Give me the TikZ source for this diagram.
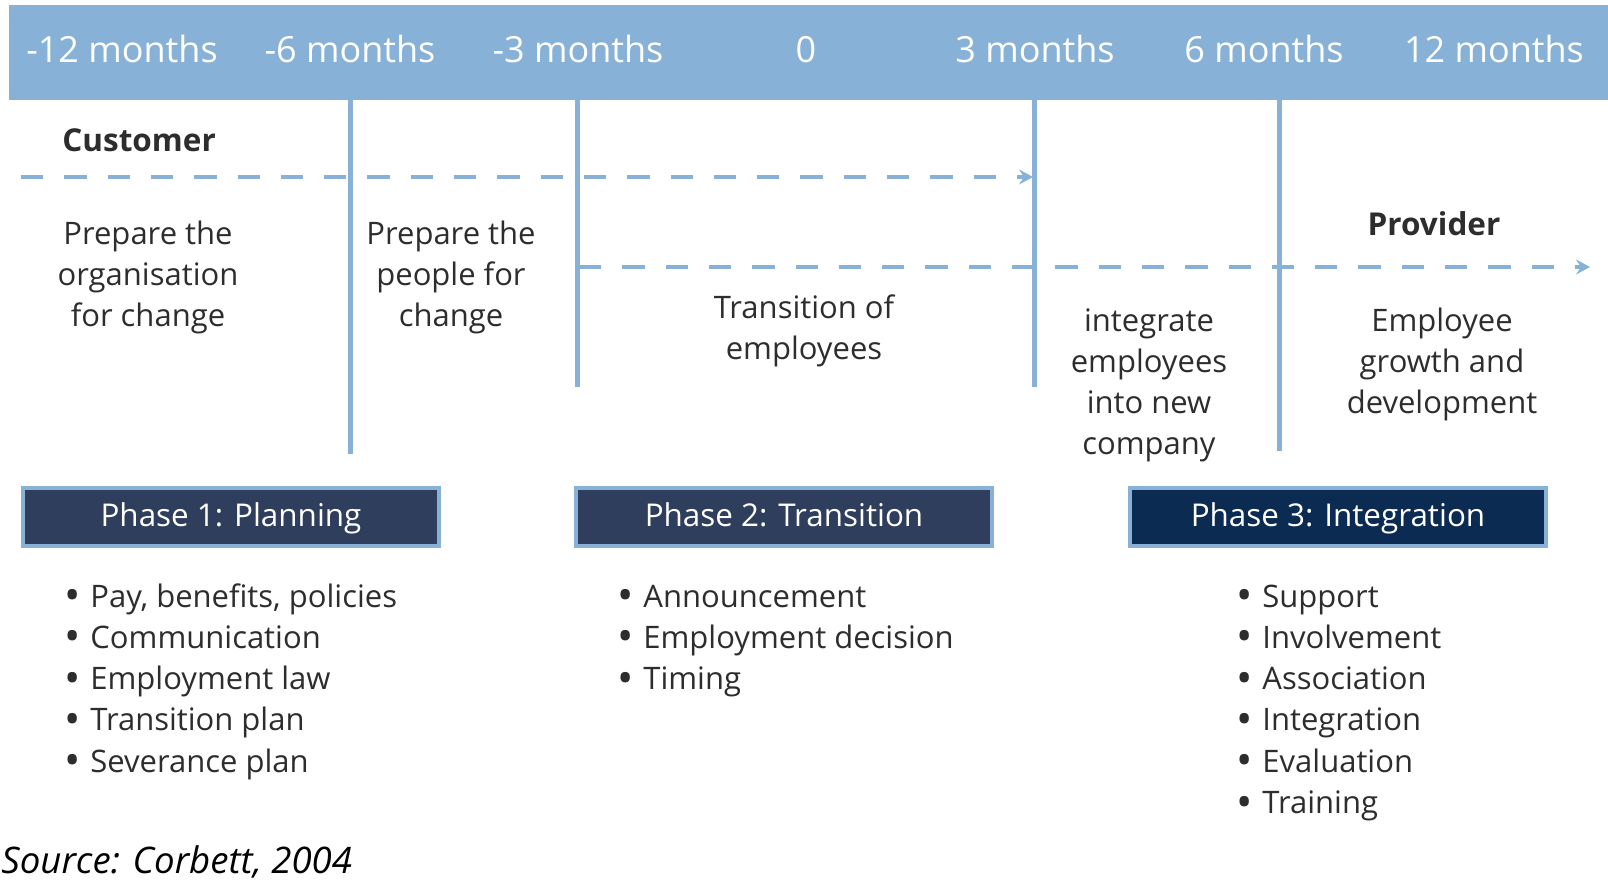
\documentclass[tikz,border=0pt]{standalone}
\usepackage{fontspec}
\setmainfont{Open Sans}
\usetikzlibrary{arrows.meta}
\definecolor{lb}{RGB}{135,177,215}
\definecolor{txt}{RGB}{45,45,45}
\definecolor{navyA}{RGB}{46,62,92}
\definecolor{navyB}{RGB}{12,43,83}
\newcommand\bul{\llap{\raisebox{-1.8pt}{\scalebox{1.4}{•}}\hspace{5pt}}}
\begin{document}
\begin{tikzpicture}[x=0.5pt,y=-0.5pt,
  hdrtxt/.style={text=white,font=\fontsize{18}{22}\selectfont,anchor=base,inner sep=0pt},
  body/.style={text=txt,font=\fontsize{15.5}{20.65}\selectfont,align=center,anchor=base,inner sep=0pt},
  party/.style={text=txt,font=\fontsize{15.75}{20}\selectfont\bfseries,anchor=base,inner sep=0pt},
  blist/.style={text=txt,font=\fontsize{15.5}{20.65}\selectfont,align=left,anchor=base west,inner sep=0pt},
  phasebox/.style={draw=lb,line width=2pt,minimum width=208pt,minimum height=29pt,inner sep=0pt,text=white,text height=12.6pt,text depth=2.8pt,font=\fontsize{15.7}{19}\selectfont},
  vline/.style={draw=lb,line width=2.5pt},
  dline/.style={draw=lb,line width=2.2pt,dash pattern=on 11.15pt off 10.5pt,-{Stealth[length=7pt,width=7.5pt,inset=2.5pt]}},
]
\useasboundingbox (0,0) rectangle (1608,888);
% header band
\fill[lb] (9,5) rectangle (1608,100);
\node[hdrtxt] (h1) at (122,63) {-12 months};
\node[hdrtxt] (h2) at (350,63) {-6 months};
\node[hdrtxt] (h3) at (578,63) {-3 months};
\node[hdrtxt] (h4) at (806,63) {0};
\node[hdrtxt] (h5) at (1035,63) {3 months};
\node[hdrtxt] (h6) at (1264,63) {6 months};
\node[hdrtxt] (h7) at (1494,63) {12 months};
% vertical lines
\coordinate (v1t) at (350,100); \coordinate (v1b) at (350,454);
\coordinate (v2t) at (577,100); \coordinate (v2b) at (577,387);
\coordinate (v3t) at (1034,100); \coordinate (v3b) at (1034,387);
\coordinate (v4t) at (1279,100); \coordinate (v4b) at (1279,451);
\draw[vline] (v1t) -- (v1b);
\draw[vline] (v2t) -- (v2b);
\draw[vline] (v3t) -- (v3b);
\draw[vline] (v4t) -- (v4b);
% dashed arrows
\coordinate (c0) at (21,177); \coordinate (c1) at (1033,177);
\coordinate (p0) at (579,267); \coordinate (p1) at (1590,267);
\draw[dline] (c0) -- (c1);
\draw[dline] (p0) -- (p1);
% party labels
\node[party,anchor=base west] (cust) at (62,152) {Customer};
\node[party] (prov) at (1434,235) {Provider};
% stage texts (base = last line baseline)
\node[body] (s1) at (148,326.6) {Prepare the\\organisation\\for change};
\node[body] (s2) at (451,326.6) {Prepare the\\people for\\change};
\node[body] (s3) at (804,359.3) {Transition of\\employees};
\node[body] (s4) at (1149,454.9) {integrate\\employees\\into new\\company};
\node[body] (s5) at (1442,413.6) {Employee\\growth and\\development};
% phase boxes
\node[phasebox,fill=navyA] (ph1) at (231,517) {Phase 1: Planning};
\node[phasebox,fill=navyA] (ph2) at (784,517) {Phase 2: Transition};
\node[phasebox,fill=navyB] (ph3) at (1338,517) {Phase 3: Integration};
% bullet lists
\node[blist] (l1) at (90,772.2) {\bul Pay, benefits, policies\\\bul Communication\\\bul Employment law\\\bul Transition plan\\\bul Severance plan};
\node[blist] (l2) at (643,689.6) {\bul Announcement\\\bul Employment decision\\\bul Timing};
\node[blist] (l3) at (1262,813.5) {\bul Support\\\bul Involvement\\\bul Association\\\bul Integration\\\bul Evaluation\\\bul Training};
% source
\node[anchor=base west,inner sep=0pt,text=black,font=\fontsize{18.3}{22}\selectfont\itshape] (src) at (1,873) {Source: Corbett, 2004};
\end{tikzpicture}
\end{document}
